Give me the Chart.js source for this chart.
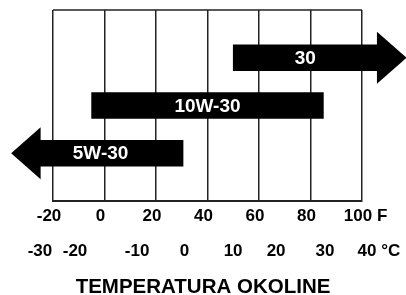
<!DOCTYPE html>
<html><head><meta charset="utf-8">
<script src="https://cdn.jsdelivr.net/npm/chart.js@4"></script>
<style>html,body{margin:0;padding:0;background:#fff}#wrap{width:406px;height:295px}</style>
</head><body><div id="wrap"><canvas id="c" width="406" height="295"></canvas></div>
<script>
// ---- data ----
const grades = ['30', '10W-30', '5W-30'];
const rangeStartF = [50, -5, -25];
const rangeEndF = [106, 85, 30.5];
const arrowDir = ['right', 'none', 'left'];
const rowIndex = [1, 2, 3];
const fahrenheitTicks = [-20, 0, 20, 40, 60, 80, 100];
const fahrenheitUnit = 'F';
const celsiusTicks = [-30, -20, -10, 0, 10, 20, 30, 40];
const celsiusTickAtF = [-23.5, -9.9, 14.2, 32.6, 51.5, 68.2, 87.2, 103.5];
const celsiusUnit = '°C';
const axisTitle = 'TEMPERATURA OKOLINE';

const FONT = '"Liberation Sans", Arial, sans-serif';

const barData = grades.map((g, i) => ({ x: [rangeStartF[i], rangeEndF[i]], y: rowIndex[i] }));

function drawTickRow(ctx, scale, values, labels, unit, baseline) {
  ctx.font = 'bold 17px ' + FONT;
  ctx.fillStyle = '#000';
  ctx.textBaseline = 'alphabetic';
  values.forEach((v, i) => {
    const px = scale.getPixelForValue(v) - 4;
    ctx.textAlign = 'center';
    ctx.fillText(labels[i], px, baseline);
    if (i === values.length - 1) {
      const w = ctx.measureText(labels[i]).width;
      ctx.textAlign = 'left';
      ctx.fillText(' ' + unit, px + w / 2, baseline);
    }
  });
}

const decorPlugin = {
  id: 'decor',
  beforeDatasetsDraw(chart) {
    const { ctx, chartArea } = chart;
    ctx.save();
    ctx.strokeStyle = '#222';
    ctx.lineWidth = 1.5;
    ctx.beginPath();
    ctx.moveTo(chartArea.left, chartArea.top);
    ctx.lineTo(chartArea.right, chartArea.top);
    ctx.stroke();
    ctx.restore();
  },
  afterDatasetsDraw(chart) {
    const { ctx } = chart;
    const meta = chart.getDatasetMeta(0);
    ctx.save();
    meta.data.forEach((bar, i) => {
      const p = bar.getProps(['x', 'y', 'base'], true);
      const half = 26, len = 29;
      ctx.fillStyle = '#000';
      if (arrowDir[i] === 'right') {
        ctx.beginPath();
        ctx.moveTo(p.x - 0.5, p.y - half);
        ctx.lineTo(p.x + len, p.y);
        ctx.lineTo(p.x - 0.5, p.y + half);
        ctx.closePath();
        ctx.fill();
      } else if (arrowDir[i] === 'left') {
        ctx.beginPath();
        ctx.moveTo(p.base + 0.5, p.y - half);
        ctx.lineTo(p.base - len, p.y);
        ctx.lineTo(p.base + 0.5, p.y + half);
        ctx.closePath();
        ctx.fill();
      }
      let cx = (p.x + p.base) / 2;
      if (arrowDir[i] === 'left') cx -= 11;
      ctx.fillStyle = '#fff';
      ctx.font = 'bold 19px ' + FONT;
      ctx.textAlign = 'center';
      ctx.textBaseline = 'middle';
      ctx.fillText(grades[i], cx, p.y + 1);
    });
    ctx.restore();
  },
  afterDraw(chart) {
    const { ctx } = chart;
    const xs = chart.scales.x;
    ctx.save();
    drawTickRow(ctx, xs, fahrenheitTicks, fahrenheitTicks.map(String), fahrenheitUnit, 221);
    drawTickRow(ctx, xs, celsiusTickAtF, celsiusTicks.map(String), celsiusUnit, 256);
    ctx.font = 'bold 20.5px ' + FONT;
    ctx.textAlign = 'center';
    ctx.textBaseline = 'alphabetic';
    ctx.fillStyle = '#000';
    ctx.fillText(axisTitle, 203, 293);
    ctx.restore();
  }
};

new Chart(document.getElementById('c'), {
  type: 'bar',
  data: {
    datasets: [{
      data: barData,
      backgroundColor: '#000',
      borderWidth: 0,
      barThickness: 26,
      clip: false
    }]
  },
  options: {
    indexAxis: 'y',
    responsive: false,
    animation: false,
    devicePixelRatio: 1,
    layout: { padding: { left: 53, right: 44, top: 10, bottom: 94 } },
    plugins: { legend: { display: false }, tooltip: { enabled: false }, title: { display: false } },
    scales: {
      x: {
        type: 'linear',
        min: -20, max: 100,
        afterBuildTicks: s => { s.ticks = fahrenheitTicks.map(v => ({ value: v })); },
        ticks: { display: false },
        grid: { color: '#222', lineWidth: 1.5, drawTicks: false },
        border: { display: true, color: '#222', width: 2 }
      },
      y: {
        type: 'linear',
        min: 0, max: 4,
        reverse: true,
        offset: false,
        display: false
      }
    }
  },
  plugins: [decorPlugin]
});
</script>
</body></html>
